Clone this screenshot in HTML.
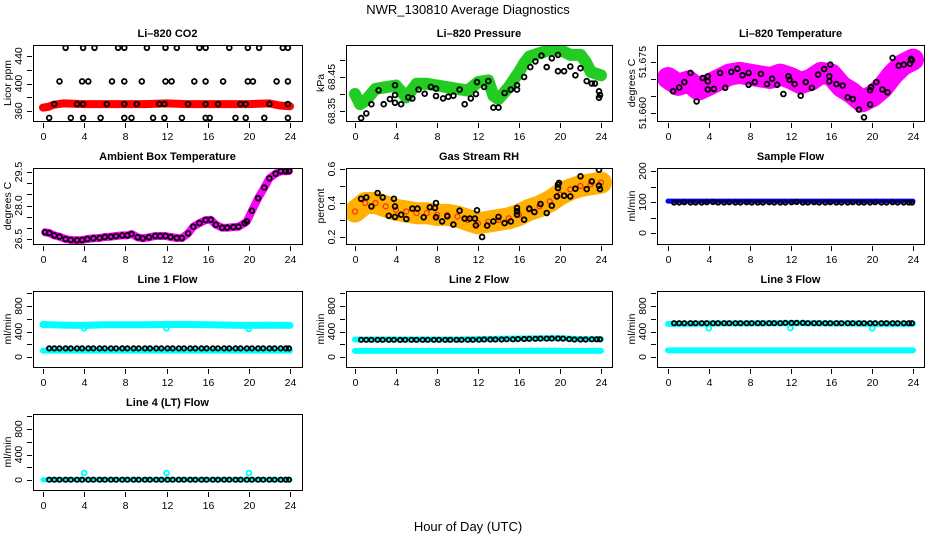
<!DOCTYPE html>
<html><head><meta charset="utf-8"><style>
body{margin:0;background:#fff;}
svg{display:block;font-family:"Liberation Sans",sans-serif;}
</style></head><body>
<svg id="c" width="936" height="540" viewBox="0 0 936 540" xmlns="http://www.w3.org/2000/svg">
<rect x="0" y="0" width="936" height="540" fill="#fff"/>
<text x="468" y="14" font-size="13" text-anchor="middle">NWR_130810  Average Diagnostics</text>
<text x="468" y="531" font-size="13" text-anchor="middle">Hour of Day (UTC)</text>
</svg>
<script>
// ---------- data ----------
const xTicks=[0,4,8,12,16,20,24];
const flowHours=[0.6,1.1,1.6,2.2,2.7,3.3,3.8,4.4,4.9,5.5,6.0,6.6,7.1,7.7,8.2,8.8,9.3,9.9,10.4,11.0,11.5,12.1,12.6,13.2,13.7,14.3,14.8,15.4,15.9,16.5,17.0,17.6,18.1,18.7,19.2,19.8,20.3,20.9,21.4,22.0,22.5,23.1,23.6,23.9];
const bandHours=[0,2,4,6,8,10,12,14,16,18,20,22,24];

// CO2
const co2BandHours=[0,0.5,1,2,4,6,8,10,12,14,16,18,20,22,23,24];
const co2Band=[365,366,369,371,370,370,370,370,371,370,370,370,370,371,368,367];
const co2BlackHours=[2.2,3.9,5.0,7.3,7.9,10.1,11.9,13.0,15.2,15.8,18.1,19.9,21.0,23.3,23.8,
 1.6,3.8,4.4,6.7,7.9,9.6,11.9,12.5,14.7,15.8,17.5,19.9,20.4,22.7,23.8,
 1.1,3.3,3.9,6.2,7.9,9.1,11.3,11.8,14.1,15.8,17.0,19.2,19.7,22.0,23.8,
 0.6,2.7,3.9,5.6,7.9,8.6,10.7,11.8,13.5,15.8,16.2,18.7,19.7,21.5,23.8];
const co2BlackVals=[452,452,452,452,452,452,452,452,452,452,452,452,452,452,452,
 403,403,403,403,403,403,403,403,403,403,403,403,403,403,403,
 370,370,370,370,370,370,370,370,370,370,370,370,370,370,370,
 350,350,350,350,350,350,350,350,350,350,350,350,350,350,350];

// Pressure
const presBandHours=[0,0.5,1,2,3,4,5,6,7,8,9,10,11,12,13,13.5,14,15,16,16.5,17,18,19,20,21,22,22.5,23,24];
const presBand=[68.40,68.37,68.38,68.415,68.42,68.425,68.39,68.43,68.43,68.425,68.42,68.415,68.41,68.435,68.44,68.395,68.385,68.42,68.465,68.49,68.51,68.52,68.53,68.53,68.515,68.515,68.495,68.465,68.455];
const presBlackHours=[0.6,1.1,1.6,2.3,2.8,3.4,3.9,3.9,3.9,4.5,5.2,5.6,6.2,6.8,7.4,7.9,7.9,8.6,9.1,9.6,10.2,10.7,11.3,11.8,11.9,12.6,13.0,13.5,14.0,14.6,15.2,15.8,15.8,16.5,17.1,17.6,18.2,18.7,19.2,19.8,19.8,20.4,21.0,21.5,22.0,22.6,23.1,23.4,23.8,23.8,23.9];
const presBlackVals=[68.329,68.343,68.370,68.411,68.370,68.385,68.374,68.426,68.397,68.370,68.390,68.387,68.413,68.401,68.421,68.394,68.416,68.387,68.392,68.395,68.413,68.370,68.387,68.400,68.435,68.421,68.438,68.360,68.360,68.403,68.413,68.413,68.426,68.450,68.479,68.496,68.513,68.479,68.505,68.467,68.515,68.467,68.481,68.455,68.476,68.438,68.431,68.431,68.408,68.389,68.397];

// Li-820 temperature
const tempBandHours=[0,1,2,3,4,5,6,7,8,9,10,11,12,13,14,15,16,17,18,19,20,21,22,23,24];
const tempBand=[51.6703,51.6683,51.6693,51.6669,51.6683,51.6698,51.6713,51.6718,51.6713,51.6708,51.6703,51.6713,51.6703,51.6688,51.6698,51.6718,51.6713,51.6678,51.6659,51.6634,51.6649,51.6674,51.6713,51.6742,51.6757];
const tempBlackHours=[0.5,1.1,1.6,2.2,2.8,3.4,3.9,3.9,3.9,4.5,5.1,5.6,6.2,6.8,7.3,7.9,7.9,8.5,9.1,9.7,10.2,10.7,11.3,11.8,11.9,12.4,13.0,13.5,14.1,14.7,15.3,15.8,15.8,15.9,16.5,17.1,17.6,18.1,18.7,19.2,19.8,19.8,19.9,20.4,21.0,21.5,22.0,22.6,23.1,23.7,23.8,23.9];
const tempBlackVals=[51.6664,51.6675,51.6691,51.6718,51.6634,51.6703,51.6708,51.6693,51.6669,51.6671,51.6718,51.6674,51.6721,51.6730,51.6711,51.6718,51.6683,51.6691,51.6715,51.6685,51.6701,51.6683,51.6656,51.6708,51.6698,51.6685,51.6651,51.6691,51.6674,51.6713,51.6729,51.6693,51.6708,51.6742,51.6685,51.6681,51.6646,51.6641,51.6610,51.6587,51.6625,51.6667,51.6676,51.6691,51.6669,51.6661,51.6762,51.6739,51.6742,51.6745,51.6759,51.6755];

// Ambient box temperature
const ambHours=[0.2,0.6,1.1,1.6,2.2,2.7,3.3,3.8,4.3,4.9,5.5,6.0,6.6,7.1,7.7,8.2,8.6,9.2,9.7,10.3,10.9,11.4,11.9,12.4,13.0,13.5,14.1,14.6,15.2,15.8,16.3,16.8,17.4,17.9,18.5,19.0,19.6,19.8,20.3,20.9,21.5,22.0,22.6,23.1,23.6,23.9];
const ambBand=[26.80,26.767,26.663,26.604,26.5,26.455,26.441,26.455,26.5,26.530,26.545,26.589,26.604,26.634,26.663,26.663,26.723,26.574,26.530,26.574,26.634,26.634,26.634,26.589,26.545,26.545,26.752,27.049,27.213,27.347,27.361,27.139,27.005,27.005,27.035,27.049,27.213,27.287,27.762,28.327,28.802,29.218,29.426,29.530,29.530,29.545];
const ambBlackVals=[26.80,26.767,26.663,26.604,26.5,26.455,26.441,26.455,26.5,26.530,26.545,26.589,26.604,26.634,26.663,26.663,26.723,26.574,26.530,26.574,26.634,26.634,26.634,26.589,26.545,26.545,26.752,27.049,27.213,27.347,27.361,27.139,27.005,27.005,27.035,27.049,27.213,27.287,27.762,28.327,28.802,29.218,29.426,29.530,29.530,29.545];

// Gas stream RH
const rhBandHours=[0,1,2,3,4,5,6,7,8,9,10,11,12,13,14,15,16,17,18,19,20,21,22,23,24];
const rhBand=[0.35,0.40,0.40,0.38,0.36,0.35,0.34,0.34,0.33,0.33,0.32,0.30,0.28,0.29,0.30,0.31,0.33,0.36,0.38,0.41,0.45,0.48,0.50,0.51,0.52];
const rhBlackHours=[0.6,1.1,1.6,2.2,2.7,3.3,3.8,3.9,3.9,4.5,5.0,5.6,6.1,6.7,7.3,7.8,7.9,7.9,8.5,9.0,9.6,10.2,10.7,11.2,11.7,11.8,11.9,12.4,12.9,13.5,14.0,14.6,15.2,15.8,15.8,15.8,16.5,17.0,17.5,18.1,18.7,19.2,19.7,19.8,19.8,19.9,20.4,21.0,21.5,22.0,22.6,23.1,23.8,23.8,23.9];
const rhBlackVals=[0.425,0.433,0.380,0.459,0.433,0.325,0.425,0.380,0.318,0.331,0.306,0.367,0.367,0.316,0.375,0.371,0.400,0.316,0.292,0.322,0.273,0.355,0.308,0.308,0.308,0.269,0.357,0.200,0.267,0.292,0.318,0.282,0.292,0.371,0.351,0.331,0.302,0.367,0.347,0.394,0.341,0.384,0.439,0.488,0.508,0.518,0.443,0.439,0.484,0.557,0.482,0.527,0.596,0.502,0.482];

// Sample flow
const sampleBand=[103,103,103,103,103,103,103,103,103,103,103,103,103];
const sampleBlack=[98,98,99,98,98,98,99,100,98,98,99,98,98,99,98,98,98,99,98,98,98,99,100,98,98,99,98,98,99,98,98,98,99,98,98,98,99,98,98,99,98,98,98,98];

// Line flows
const line1Hi=[510,500,495,505,505,505,510,510,505,500,495,500,495];
const line1Lo=[100,100,100,100,100,100,100,100,100,100,100,100,100];
const line1Black=[135,135,135,135,135,135,135,135,135,135,135,135,135,135,135,135,135,135,135,135,135,135,135,135,135,135,135,135,135,135,135,135,135,135,135,135,135,135,135,135,135,135,135,135];
const line2Hi=[275,275,275,275,275,275,280,285,290,295,295,280,280];
const line2Lo=[95,95,95,95,95,95,95,95,95,95,95,95,95];
const line2Black=[270,270,270,270,270,270,270,268,270,270,270,270,270,270,270,270,270,270,270,270,270,272,275,275,275,275,278,278,280,282,285,285,288,288,290,290,288,280,275,275,275,278,278,278];
const line3Hi=[520,520,525,525,525,530,530,530,525,525,520,520,520];
const line3Lo=[104,104,104,104,104,104,104,104,104,104,104,104,104];
const line3Black=[530,530,530,530,530,530,530,530,530,530,530,530,530,530,530,530,530,530,530,530,535,535,535,535,530,530,530,530,530,530,530,530,530,530,530,530,530,530,530,530,530,530,530,530];
const line4Cyan=[5,5,5,5,5,5,5,5,5,5,5,5,5];
const line4Black=[5,5,5,5,5,5,5,5,5,5,5,5,5,5,5,5,5,5,5,5,5,5,5,5,5,5,5,5,5,5,5,5,5,5,5,5,5,5,5,5,5,5,5,5];
const dipHours=[4,12,20];
const line1Dips=[450,450,440];
const line3Dips=[450,455,450];
const line4Spikes=[110,110,110];

// ---------- drawing ----------
const NS='http://www.w3.org/2000/svg';
const svg=document.getElementById('c');
const cols=[{l:33,r:302,x0:43,x24:290},{l:346,r:612,x0:355,x24:601},{l:657,r:924,x0:668,x24:913}];
const rowTops=[45,168,291,414];
const PH=76;
let clipId=0;
function el(tag,attrs,parent){const e=document.createElementNS(NS,tag);for(const k in attrs)e.setAttribute(k,attrs[k]);(parent||svg).appendChild(e);return e;}

function panel(o){
  const c=cols[o.col], top=rowTops[o.row], bot=top+PH;
  const g=el('g',{});
  
  
  const xs=h=>c.x0+(h/24)*(c.x24-c.x0);
  const ys=v=>top+o.p1+(v-o.v1)*(o.p2-o.p1)/(o.v2-o.v1);
  const id='clip'+(clipId++);
  const cp=el('clipPath',{id:id},g);
  el('rect',{x:c.l,y:top,width:c.r-c.l,height:PH},cp);
  const plot=el('g',{'clip-path':'url(#'+id+')'},g);
  
  
  (o.bands||[]).forEach(b=>{
    const pts=b.h.map((h,i)=>xs(h).toFixed(1)+','+ys(b.v[i]).toFixed(1)).join(' ');
    const p=el('polyline',{points:pts,fill:'none',stroke:b.color,'stroke-width':b.w,'stroke-linejoin':'round','stroke-linecap':'round'},plot);
    
    
    if(b.edge){
      b.h.forEach((h,i)=>{const q=el('circle',{cx:xs(h),cy:ys(b.v[i]),r:2.5,fill:'none',stroke:b.edge,'stroke-width':1.2},plot);
        
        });
    }
  });
  (o.points||[]).forEach(s=>{
    s.h.forEach((h,i)=>{
      const q=el('circle',{cx:xs(h).toFixed(1),cy:ys(s.v[i]).toFixed(1),r:s.r||2.4,fill:'none',stroke:s.color,'stroke-width':s.sw||1.8},plot);
      
      
    });
  });
  const fr=el('rect',{x:c.l+0.5,y:top+0.5,width:c.r-c.l,height:PH,fill:'none',stroke:'#000','stroke-width':1},g);
  
  
  xTicks.forEach(t=>{
    const x=Math.round(xs(t))+0.5;
    const tk=el('line',{x1:x,x2:x,y1:bot+2,y2:bot+7,stroke:'#000'},g);
    
    
    const tl=el('text',{x:x,y:bot+19,'font-size':10.5,'text-anchor':'middle'},g);
    tl.textContent=t;
    
    
  });
  o.yt.forEach(t=>{
    const y=Math.round(ys(t))+0.5;
    const tk=el('line',{x1:c.l-6,x2:c.l-1,y1:y,y2:y,stroke:'#000'},g);
    
    
  });
  o.yl.forEach(t=>{
    const y=ys(t.v), x=c.l-11;
    const tl=el('text',{x:x,y:y,'font-size':10.5,'text-anchor':'middle',transform:'rotate(-90 '+x+' '+y+')'},g);
    tl.textContent=t.s;
    
    
  });
  const yx=c.l-22, ym=top+PH/2;
  const yl=el('text',{x:yx,y:ym,'font-size':10.5,'text-anchor':'middle',transform:'rotate(-90 '+yx+' '+ym+')'},g);
  yl.textContent=o.ylab;
  
  
  const tt=el('text',{x:(c.l+c.r)/2,y:top-8,'font-size':11,'font-weight':'bold','text-anchor':'middle'},g);
  tt.textContent=o.title;
  
  
}

const flowYt=[0,200,400,600,800,1000], flowYl=[{v:0,s:'0'},{v:400,s:'400'},{v:800,s:'800'}];

panel({name:'co2',col:0,row:0,title:'Li–820 CO2',ylab:'Licor ppm',v1:360,p1:66,v2:440,p2:11,
  yt:[360,380,400,420,440],yl:[{v:360,s:'360'},{v:400,s:'400'},{v:440,s:'440'}],
  bands:[{name:'co2-band',h:co2BandHours,v:co2Band,color:'#ff0000',w:8}],
  points:[{name:'co2-average-point',h:co2BlackHours,v:co2BlackVals,color:'#000'}]});
panel({name:'pressure',col:1,row:0,title:'Li–820 Pressure',ylab:'kPa',v1:68.35,p1:66,v2:68.45,p2:32,
  yt:[68.35,68.40,68.45,68.50],yl:[{v:68.35,s:'68.35'},{v:68.45,s:'68.45'}],
  bands:[{name:'pressure-band',h:presBandHours,v:presBand,color:'#22cc22',w:12}],
  points:[{name:'pressure-average-point',h:presBlackHours,v:presBlackVals,color:'#000'}]});
panel({name:'li820-temp',col:2,row:0,title:'Li–820 Temperature',ylab:'degrees C',v1:51.660,p1:68,v2:51.675,p2:17,
  yt:[51.660,51.665,51.670,51.675],yl:[{v:51.660,s:'51.660'},{v:51.675,s:'51.675'}],
  bands:[{name:'temperature-band',h:tempBandHours,v:tempBand,color:'#ff00ff',w:22}],
  points:[{name:'temperature-average-point',h:tempBlackHours,v:tempBlackVals,color:'#000'}]});
panel({name:'ambient-temp',col:0,row:1,title:'Ambient Box Temperature',ylab:'degrees C',v1:26.5,p1:71,v2:29.5,p2:4,
  yt:[26.5,27,27.5,28,28.5,29,29.5],yl:[{v:26.5,s:'26.5'},{v:28,s:'28.0'},{v:29.5,s:'29.5'}],
  bands:[{name:'ambient-band',h:ambHours,v:ambBand,color:'#ff00ff',w:8}],
  points:[{name:'ambient-average-point',h:ambHours,v:ambBlackVals,color:'#000'}]});
panel({name:'rh',col:1,row:1,title:'Gas Stream RH',ylab:'percent',v1:0.2,p1:69,v2:0.6,p2:1,
  yt:[0.2,0.3,0.4,0.5,0.6],yl:[{v:0.2,s:'0.2'},{v:0.4,s:'0.4'},{v:0.6,s:'0.6'}],
  bands:[{name:'rh-band',h:rhBandHours,v:rhBand,color:'#ffb000',w:22,edge:'#ff3300'}],
  points:[{name:'rh-average-point',h:rhBlackHours,v:rhBlackVals,color:'#000'}]});
panel({name:'sample-flow',col:2,row:1,title:'Sample Flow',ylab:'ml/min',v1:0,p1:65,v2:200,p2:3,
  yt:[0,50,100,150,200],yl:[{v:0,s:'0'},{v:100,s:'100'},{v:200,s:'200'}],
  bands:[{name:'sample-flow-band',h:bandHours,v:sampleBand,color:'#0000ff',w:5}],
  points:[{name:'sample-flow-average-point',h:flowHours,v:sampleBlack,color:'#000',r:2.2}]});
panel({name:'line1',col:0,row:2,title:'Line 1 Flow',ylab:'ml/min',v1:0,p1:66,v2:800,p2:15,yt:flowYt,yl:flowYl,
  bands:[{name:'line1-high-band',h:bandHours,v:line1Hi,color:'#00ffff',w:7},{name:'line1-low-band',h:bandHours,v:line1Lo,color:'#00ffff',w:6}],
  points:[{name:'line1-dip',h:dipHours,v:line1Dips,color:'#00ffff'},{name:'line1-average-point',h:flowHours,v:line1Black,color:'#000',r:2.2}]});
panel({name:'line2',col:1,row:2,title:'Line 2 Flow',ylab:'ml/min',v1:0,p1:66,v2:800,p2:15,yt:flowYt,yl:flowYl,
  bands:[{name:'line2-high-band',h:bandHours,v:line2Hi,color:'#00ffff',w:6},{name:'line2-low-band',h:bandHours,v:line2Lo,color:'#00ffff',w:6}],
  points:[{name:'line2-average-point',h:flowHours,v:line2Black,color:'#000',r:2.2}]});
panel({name:'line3',col:2,row:2,title:'Line 3 Flow',ylab:'ml/min',v1:0,p1:66,v2:800,p2:15,yt:flowYt,yl:flowYl,
  bands:[{name:'line3-high-band',h:bandHours,v:line3Hi,color:'#00ffff',w:6},{name:'line3-low-band',h:bandHours,v:line3Lo,color:'#00ffff',w:6}],
  points:[{name:'line3-dip',h:dipHours,v:line3Dips,color:'#00ffff'},{name:'line3-average-point',h:flowHours,v:line3Black,color:'#000',r:2.2}]});
panel({name:'line4',col:0,row:3,title:'Line 4 (LT) Flow',ylab:'ml/min',v1:0,p1:66,v2:800,p2:15,yt:flowYt,yl:flowYl,
  bands:[{name:'line4-band',h:bandHours,v:line4Cyan,color:'#00ffff',w:5}],
  points:[{name:'line4-spike',h:dipHours,v:line4Spikes,color:'#00ffff'},{name:'line4-average-point',h:flowHours,v:line4Black,color:'#000',r:2.2}]});
</script>
</body></html>
